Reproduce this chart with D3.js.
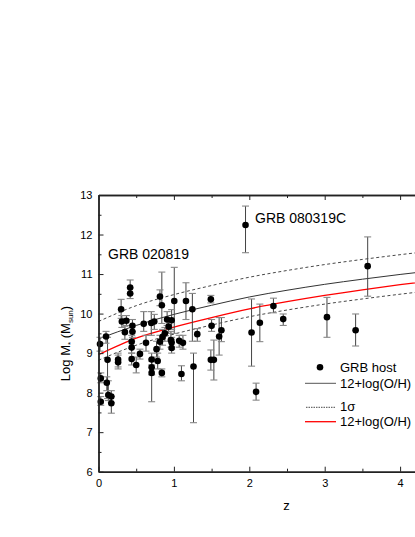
<!DOCTYPE html>
<html>
<head>
<meta charset="utf-8">
<script src="https://cdn.jsdelivr.net/npm/d3@7"></script>
<style>
    body { margin: 0; background: #fff; }
    svg { display: block; font-family: Arial, "Liberation Sans", sans-serif; }
</style>
</head>
<body>
<svg id="chart" width="415" height="537"></svg>
<script>
// GRB host galaxies: redshift, log stellar mass, error bar bounds
const hostZ = [0.02, 0.03, 0.03, 0.10, 0.12, 0.11, 0.13, 0.17, 0.17, 0.26, 0.26, 0.30, 0.31, 0.37, 0.35,
    0.42, 0.42, 0.45, 0.45, 0.44, 0.44, 0.44, 0.50, 0.55, 0.60, 0.63, 0.70, 0.74, 0.705, 0.705,
    0.705, 0.77, 0.785, 0.815, 0.84, 0.84, 0.815, 0.85, 0.88, 0.91, 0.97, 0.93, 0.96, 0.97, 0.97,
    1.005, 1.07, 1.12, 1.10, 1.16, 1.245, 1.26, 1.31, 1.49, 1.50, 1.49, 1.53, 1.60, 1.63, 1.95,
    2.03, 2.09, 2.14, 2.32, 2.45, 3.03, 3.41, 3.57];
const hostLogM = [9.23, 8.36, 7.77, 9.42, 8.83, 8.25, 7.94, 7.90, 7.73, 8.84, 8.77, 10.11, 9.80, 9.82, 9.53,
    10.66, 10.51, 9.69, 9.54, 9.29, 9.14, 8.85, 8.70, 8.98, 9.74, 9.26, 9.76, 9.80, 8.84, 8.64,
    8.50, 9.10, 8.80, 10.43, 10.21, 8.50, 9.29, 9.41, 9.50, 9.85, 9.83, 9.67, 9.33, 9.27, 9.13,
    10.32, 9.31, 9.26, 8.47, 10.32, 10.11, 8.66, 9.48, 10.36, 9.69, 8.83, 8.83, 9.42, 9.58, 12.24,
    9.52, 8.02, 9.77, 10.19, 9.86, 9.91, 9.58, 11.20];
const hostLo = [9.05, 8.25, 7.68, 9.25, 7.85, 8.05, 7.80, 7.75, 7.48, 8.65, 8.60, 9.88, 9.65, 9.70, 9.35,
    10.50, 10.38, 9.55, 9.40, 9.12, 9.00, 8.70, 8.50, 8.85, 9.55, 9.05, 9.45, 9.60, 8.70, 8.45,
    7.77, 8.90, 8.60, 10.20, 9.75, 8.40, 9.10, 9.20, 9.30, 9.70, 9.60, 9.50, 9.15, 9.10, 9.00,
    9.50, 9.15, 9.10, 8.30, 9.85, 9.30, 7.24, 9.30, 10.27, 9.55, 8.57, 8.32, 8.95, 9.29, 11.54,
    8.67, 7.81, 9.29, 10.02, 9.70, 9.40, 9.18, 10.44];
const hostHi = [9.40, 8.50, 7.90, 9.55, 9.40, 8.40, 8.30, 8.05, 7.90, 9.00, 8.95, 10.36, 9.95, 9.95, 9.68,
    10.85, 10.65, 9.85, 9.70, 9.45, 9.30, 9.00, 8.90, 9.10, 10.05, 9.45, 10.05, 9.98, 9.00, 8.85,
    8.80, 9.30, 9.00, 10.60, 11.05, 8.60, 9.45, 9.60, 9.65, 10.05, 10.10, 9.85, 9.55, 9.40, 9.35,
    11.17, 9.45, 9.45, 8.68, 10.78, 10.51, 9.00, 9.62, 10.46, 9.85, 9.08, 9.33, 9.90, 9.90, 12.72,
    10.37, 8.24, 10.24, 10.39, 9.99, 10.41, 9.99, 11.94];

// model curves
const curveZ     = [0, 0.5, 1, 1.5, 2, 2.5, 3, 3.5, 4, 4.5];
const curveMean  = [9.36, 9.70, 9.98, 10.21, 10.42, 10.59, 10.74, 10.87, 10.99, 11.10];
const curveUpper = [9.80, 10.20, 10.48, 10.71, 10.92, 11.09, 11.24, 11.37, 11.49, 11.60];
const curveLower = [8.82, 9.20, 9.48, 9.71, 9.92, 10.09, 10.24, 10.37, 10.49, 10.60];
const curveRed   = [8.96, 9.38, 9.66, 9.90, 10.12, 10.30, 10.46, 10.60, 10.73, 10.85];

const xTicks = [0, 1, 2, 3, 4];
const yTicks = [6, 7, 8, 9, 10, 11, 12, 13];

const svg = d3.select("#chart");
svg.append("rect").attr("width", 415).attr("height", 537).attr("fill", "#fff");

const plotLeft = 98.5, plotRight = 437.8, plotTop = 195, plotBottom = 471.7;
const x = d3.scaleLinear().domain([0, 4.5]).range([plotLeft, plotRight]);
const y = d3.scaleLinear().domain([6, 13]).range([plotBottom, plotTop]);

const plot = svg.append("g");

// curves
const line = d3.line()
    .x((d, i) => x(curveZ[i]))
    .y(d => y(d))
    .curve(d3.curveMonotoneX);

plot.append("path").attr("d", line(curveUpper))
    .attr("fill", "none").attr("stroke", "#333").attr("stroke-width", 0.9)
    .attr("stroke-dasharray", "3,2.5");
plot.append("path").attr("d", line(curveLower))
    .attr("fill", "none").attr("stroke", "#333").attr("stroke-width", 0.9)
    .attr("stroke-dasharray", "3,2.5");
plot.append("path").attr("d", line(curveMean))
    .attr("fill", "none").attr("stroke", "#333").attr("stroke-width", 1);
plot.append("path").attr("d", line(curveRed))
    .attr("fill", "none").attr("stroke", "#f00").attr("stroke-width", 1.3);

// error bars
const hosts = hostZ.map((z, i) => ({z, m: hostLogM[i], lo: hostLo[i], hi: hostHi[i]}));
const bars = plot.append("g");
bars.selectAll("line.bar")
    .data(hosts)
    .join("line")
    .attr("class", "bar")
    .attr("x1", d => x(d.z)).attr("x2", d => x(d.z))
    .attr("y1", d => y(d.lo)).attr("y2", d => y(d.hi))
    .attr("stroke", "#444").attr("stroke-width", 1);
["lo", "hi"].forEach(k => {
    bars.selectAll("line.cap-" + k)
        .data(hosts)
        .join("line")
        .attr("class", "cap-" + k)
        .attr("x1", d => x(d.z) - 3.5).attr("x2", d => x(d.z) + 3.5)
        .attr("y1", d => y(d[k])).attr("y2", d => y(d[k]))
        .attr("stroke", "#888").attr("stroke-width", 1.1);
});

plot.append("g").selectAll("circle")
    .data(hosts)
    .join("circle")
    .attr("cx", d => x(d.z))
    .attr("cy", d => y(d.m))
    .attr("r", 3.3)
    .attr("fill", "#000");

// axes, ticks pointing inwards
const axisColor = "#222";
const intFmt = d3.format("d");
function styleAxis(g) {
    g.select(".domain").attr("stroke", axisColor).attr("stroke-width", 1.4);
    g.selectAll(".tick line").attr("stroke", axisColor).attr("stroke-width", 1);
    g.selectAll(".tick text").attr("fill", "#000").attr("font-size", 11)
        .attr("font-family", "Arial, 'Liberation Sans', sans-serif");
}

const minorX = d3.range(0.5, 4.6, 1);
const minorY = d3.range(6.5, 13, 1);

svg.append("g").attr("transform", `translate(0,${plotBottom})`)
    .call(d3.axisBottom(x).tickValues(xTicks).tickFormat(intFmt)
        .tickSizeInner(-5).tickSizeOuter(0).tickPadding(8))
    .call(styleAxis);
svg.append("g").attr("transform", `translate(0,${plotBottom})`)
    .call(d3.axisBottom(x).tickValues(minorX).tickSizeInner(-3).tickSizeOuter(0).tickFormat(""))
    .call(styleAxis);

svg.append("g").attr("transform", `translate(0,${plotTop})`)
    .call(d3.axisTop(x).tickValues(xTicks).tickSizeInner(-5).tickSizeOuter(0).tickFormat(""))
    .call(styleAxis);
svg.append("g").attr("transform", `translate(0,${plotTop})`)
    .call(d3.axisTop(x).tickValues(minorX).tickSizeInner(-3).tickSizeOuter(0).tickFormat(""))
    .call(styleAxis);

svg.append("g").attr("transform", `translate(${plotLeft},0)`)
    .call(d3.axisLeft(y).tickValues(yTicks).tickFormat(intFmt)
        .tickSizeInner(-5).tickSizeOuter(0).tickPadding(6))
    .call(styleAxis);
svg.append("g").attr("transform", `translate(${plotLeft},0)`)
    .call(d3.axisLeft(y).tickValues(minorY).tickSizeInner(-3).tickSizeOuter(0).tickFormat(""))
    .call(styleAxis);

// axis titles
svg.append("text")
    .attr("x", 286.5).attr("y", 509.5)
    .attr("text-anchor", "middle")
    .attr("font-size", 13)
    .text("z");

const yTitle = svg.append("text")
    .attr("transform", "translate(70,343.5) rotate(-90)")
    .attr("text-anchor", "middle")
    .attr("font-size", 13);
yTitle.append("tspan").text("Log M");
yTitle.append("tspan").attr("font-size", 8).attr("dy", 3).text("*");
yTitle.append("tspan").attr("dy", -3).text(" (M");
yTitle.append("tspan").attr("font-size", 8).attr("dy", 3).text("sun");
yTitle.append("tspan").attr("dy", -3).text(")");

// annotations
svg.append("text").attr("x", 108).attr("y", 259).attr("font-size", 14).text("GRB 020819");
svg.append("text").attr("x", 255).attr("y", 223).attr("font-size", 14).text("GRB 080319C");

// legend
const legend = svg.append("g").attr("font-size", 13);
legend.append("circle").attr("cx", 320).attr("cy", 367.3).attr("r", 3.3).attr("fill", "#000");
legend.append("text").attr("x", 340).attr("y", 371.5).text("GRB host");

legend.append("line").attr("x1", 305).attr("x2", 336).attr("y1", 383.3).attr("y2", 383.3)
    .attr("stroke", "#555").attr("stroke-width", 1);
legend.append("text").attr("x", 340).attr("y", 387.5).text("12+log(O/H)");

legend.append("line").attr("x1", 306).attr("x2", 336).attr("y1", 407.3).attr("y2", 407.3)
    .attr("stroke", "#333").attr("stroke-width", 0.9).attr("stroke-dasharray", "1.5,1");
legend.append("text").attr("x", 340).attr("y", 411).text("1σ");

legend.append("line").attr("x1", 305).attr("x2", 336).attr("y1", 421.7).attr("y2", 421.7)
    .attr("stroke", "#f00").attr("stroke-width", 1.3);
legend.append("text").attr("x", 340).attr("y", 425.8).text("12+log(O/H)");
</script>
</body>
</html>
